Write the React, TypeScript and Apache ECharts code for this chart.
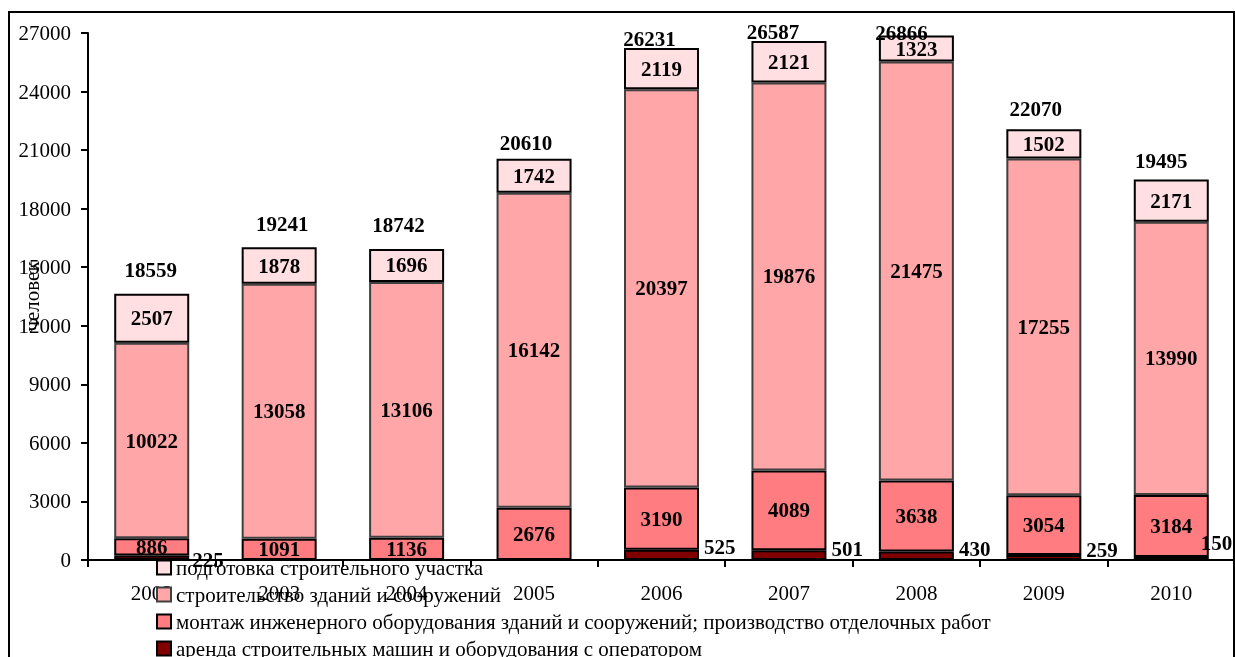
import React, { useEffect, useRef } from "react";
import * as echarts from "echarts";

const categories = ["2002", "2003", "2004", "2005", "2006", "2007", "2008", "2009", "2010"];
const arendaValues = [225, null, null, null, 525, 501, 430, 259, 150];
const montazhValues = [886, 1091, 1136, 2676, 3190, 4089, 3638, 3054, 3184];
const stroitelstvoValues = [10022, 13058, 13106, 16142, 20397, 19876, 21475, 17255, 13990];
const podgotovkaValues = [2507, 1878, 1696, 1742, 2119, 2121, 1323, 1502, 2171];
const totalLabels = [18559, 19241, 18742, 20610, 26231, 26587, 26866, 22070, 19495];

const seriesNames = [
  "аренда строительных машин и оборудования с оператором",
  "монтаж инженерного оборудования зданий и сооружений; производство отделочных работ",
  "строительство зданий и сооружений",
  "подготовка строительного участка",
];

// style-only label offsets (pixels)
const totalLabelOffsets = [
  [-1, -24], [3, -23], [-8, -24], [-8, -16], [-12, -9], [-16, -9], [-15, -3], [-8, -20], [-10, -18],
];
const arendaLabelOffsets = [
  [-2, 2], [0, -8], [0, -8], [0, -8], [0, -8], [0, -6], [0, -7], [0, -7], [-13, -16],
];

const FONT = "'Liberation Serif', 'Times New Roman', serif";

export default function App() {
  const ref = useRef<HTMLDivElement>(null);
  useEffect(() => {
    const chart = echarts.init(ref.current!, null, { renderer: "svg" });
    const stackSums = categories.map(
      (_, i) =>
        (arendaValues[i] || 0) + montazhValues[i] + stroitelstvoValues[i] + podgotovkaValues[i]
    );
    const segLabel = {
      show: true,
      position: "inside",
      color: "#000",
      fontWeight: "bold",
      fontSize: 21,
      fontFamily: FONT,
    };
    const option: any = {
      animation: false,
      textStyle: { fontFamily: FONT },
      grid: {
        left: 80,
        right: 0,
        top: 25,
        bottom: 97,
        containLabel: false,
        outerBoundsMode: "none",
      },
      legend: {
        orient: "vertical",
        left: 148,
        top: 549,
        height: 200,
        padding: 0,
        itemWidth: 14,
        itemHeight: 14,
        itemGap: 6,
        icon: "rect",
        data: [seriesNames[3], seriesNames[2], seriesNames[1], seriesNames[0]],
        textStyle: { fontSize: 21, fontFamily: FONT, color: "#000" },
        z: 1,
      },
      xAxis: {
        type: "category",
        data: categories,
        axisLine: { lineStyle: { color: "#000", width: 2 } },
        axisTick: { show: true, length: 7, lineStyle: { color: "#000", width: 2 } },
        axisLabel: { fontSize: 21, fontFamily: FONT, color: "#000", margin: 22 },
      },
      yAxis: {
        type: "value",
        min: 0,
        max: 27000,
        interval: 3000,
        name: "человек",
        nameLocation: "middle",
        nameGap: 46,
        nameMoveOverlap: false,
        nameTextStyle: { fontSize: 21, fontFamily: FONT, color: "#000" },
        axisLine: { show: true, lineStyle: { color: "#000", width: 2 } },
        axisTick: { show: true, length: 7, lineStyle: { color: "#000", width: 2 } },
        axisLabel: {
          fontSize: 21,
          fontFamily: FONT,
          color: "#000",
          margin: 17,
          formatter: (v: number) => String(v),
        },
        splitLine: { show: false },
      },
      series: [
        {
          name: seriesNames[0],
          type: "bar",
          stack: "s",
          barWidth: 75,
          itemStyle: { color: "#800000", borderColor: "#000", borderWidth: 2 },
          data: arendaValues.map((v, i) => ({
            value: v,
            label: {
              show: v != null,
              position: "right",
              distance: 5,
              offset: arendaLabelOffsets[i],
              color: "#000",
              fontWeight: "bold",
              fontSize: 21,
              fontFamily: FONT,
            },
          })),
          z: 3,
        },
        {
          name: seriesNames[1],
          type: "bar",
          stack: "s",
          barWidth: 75,
          itemStyle: { color: "#FF7C80", borderColor: "#000", borderWidth: 2 },
          label: segLabel,
          data: montazhValues,
        },
        {
          name: seriesNames[2],
          type: "bar",
          stack: "s",
          barWidth: 75,
          itemStyle: { color: "#FFA6A8", borderColor: "#404040", borderWidth: 2 },
          label: segLabel,
          data: stroitelstvoValues,
        },
        {
          name: seriesNames[3],
          type: "bar",
          stack: "s",
          barWidth: 75,
          itemStyle: { color: "#FFDFE1", borderColor: "#000", borderWidth: 2 },
          label: segLabel,
          data: podgotovkaValues,
        },
        {
          name: "total",
          type: "scatter",
          symbolSize: 1,
          itemStyle: { color: "transparent", opacity: 1 },
          data: stackSums.map((v, i) => ({
            value: v,
            label: {
              show: true,
              position: "inside",
              offset: totalLabelOffsets[i],
              formatter: String(totalLabels[i]),
              color: "#000",
              opacity: 1,
              textBorderWidth: 0,
              fontWeight: "bold",
              fontSize: 21,
              fontFamily: FONT,
            },
          })),
          z: 5,
        },
      ],
    };
    chart.setOption(option);
    return () => chart.dispose();
  }, []);
  return (
    <div>
      <div
        ref={ref}
        style={{ position: "fixed", left: 8, top: 8, width: 1227, height: 649 }}
      />
      <div
        style={{
          position: "fixed",
          left: 8,
          top: 11,
          width: 1227,
          height: 700,
          boxSizing: "border-box",
          border: "2px solid #000",
          pointerEvents: "none",
        }}
      />
    </div>
  );
}
